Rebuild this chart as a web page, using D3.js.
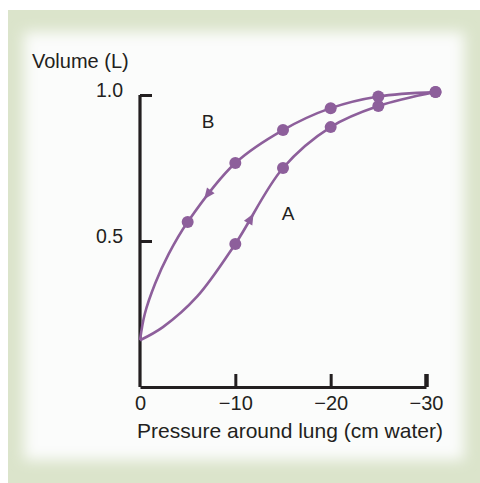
<!DOCTYPE html>
<html>
<head>
<meta charset="utf-8">
<script src="https://cdn.jsdelivr.net/npm/d3@7"></script>
<style>
  body { margin: 0; background: #fff; }
  text { font-family: "Liberation Sans", Arial, sans-serif; fill: #231f20; }
</style>
</head>
<body>
<div id="chart"></div>
<script>
/**
 * DATA
 * */
const pressureTicks = [0, -10, -20, -30];
const volumeTicks = [0.5, 1.0];

// curve A: inflation, traced from 0 to -31 cm water
const inflP = [0, -2.4, -6, -10, -15, -20, -25, -31];
const inflV = [0.16, 0.205, 0.31, 0.49, 0.75, 0.89, 0.962, 1.01];
const inflDots = [-10, -15, -20, -25, -31];

// curve B: deflation, traced from -31 back to 0
const deflP = [-31, -25, -20, -15, -10, -5, -3, -1.6, -0.5, 0];
const deflV = [1.01, 0.995, 0.955, 0.88, 0.767, 0.565, 0.455, 0.355, 0.25, 0.16];
const deflDots = [-31, -25, -20, -15, -10, -5];

const arrowAt = { A: -11.6, B: -7.1 };

/**
 * CONSTANTS
 * */
const width = 480, height = 483;
const purple = "#8d5f9b";
const ink = "#231f20";

const svg = d3.select("#chart").append("svg")
  .attr("width", width)
  .attr("height", height);

// frame: pale green border fading into a white panel
const defs = svg.append("defs");
defs.append("filter").attr("id", "soft")
  .attr("x", "-10%").attr("y", "-10%").attr("width", "120%").attr("height", "120%")
  .append("feGaussianBlur").attr("stdDeviation", 7);

svg.append("rect")
  .attr("x", 8).attr("y", 10)
  .attr("width", width - 8).attr("height", height - 10)
  .attr("fill", "#dbe4cb");
svg.append("rect")
  .attr("x", 24).attr("y", 32)
  .attr("width", 440).attr("height", 428)
  .attr("fill", "#fbfcfb")
  .attr("filter", "url(#soft)");

/**
 * SCALES AND AXES
 * */
const x = d3.scaleLinear().domain([0, -30]).range([140, 426]);
const y = d3.scaleLinear().domain([0, 1]).range([387, 95]);

const xAxis = svg.append("g")
  .attr("transform", `translate(0,${y(0)})`)
  .call(d3.axisBottom(x).tickValues(pressureTicks).tickSize(-13).tickSizeOuter(0).tickPadding(9));

xAxis.select(".domain").attr("stroke", ink).attr("stroke-width", 3.2);
xAxis.selectAll(".tick line").attr("stroke", ink).attr("stroke-width", 3)
  .filter(d => d === 0).remove();
xAxis.selectAll(".tick line").filter(d => d === -30).attr("stroke-width", 4.5);
xAxis.selectAll(".tick text")
  .style("font-size", "20px")
  .style("font-family", "Liberation Sans, Arial, sans-serif")
  .attr("fill", ink);

const yAxis = svg.append("g")
  .attr("transform", `translate(${x(0)},0)`)
  .call(d3.axisLeft(y).tickValues(volumeTicks).tickFormat(d3.format(".1f"))
    .tickSize(-12).tickSizeOuter(0).tickPadding(17));

yAxis.select(".domain").attr("stroke", ink).attr("stroke-width", 3.2)
  .attr("d", `M0,${y(1)}V${y(0)}`);
yAxis.selectAll(".tick line").attr("stroke", ink).attr("stroke-width", 3);
yAxis.selectAll(".tick text")
  .style("font-size", "19.5px")
  .style("font-family", "Liberation Sans, Arial, sans-serif")
  .attr("fill", ink)
  .attr("dy", "0.1em");

svg.append("text")
  .attr("x", 32).attr("y", 68)
  .style("font-size", "20px")
  .text("Volume (L)");

svg.append("text")
  .attr("x", 290).attr("y", 438)
  .attr("text-anchor", "middle")
  .style("font-size", "21px")
  .text("Pressure around lung (cm water)");

/**
 * CURVES
 * */
const line = d3.line()
  .x(d => x(d[0]))
  .y(d => y(d[1]))
  .curve(d3.curveCatmullRom.alpha(0.5));

const curves = [
  { name: "A", p: inflP, v: inflV, dots: inflDots },
  { name: "B", p: deflP, v: deflV, dots: deflDots }
];

curves.forEach(c => {
  const pts = c.p.map((p, i) => [p, c.v[i]]);
  const path = svg.append("path")
    .datum(pts)
    .attr("d", line)
    .attr("fill", "none")
    .attr("stroke", purple)
    .attr("stroke-width", 2.6);

  svg.selectAll(null)
    .data(pts.filter(d => c.dots.includes(d[0])))
    .join("circle")
    .attr("cx", d => x(d[0]))
    .attr("cy", d => y(d[1]))
    .attr("r", 6)
    .attr("fill", purple);

  // direction arrow: find point on path nearest the chosen pressure
  const node = path.node();
  const total = node.getTotalLength();
  const tx = x(arrowAt[c.name]);
  let best = 0, bestD = Infinity;
  for (let l = 0; l <= total; l += 0.5) {
    const pt = node.getPointAtLength(l);
    const dd = Math.abs(pt.x - tx);
    if (dd < bestD) { bestD = dd; best = l; }
  }
  const p0 = node.getPointAtLength(Math.max(0, best - 2));
  const p1 = node.getPointAtLength(Math.min(total, best + 2));
  const pm = node.getPointAtLength(best);
  const ang = Math.atan2(p1.y - p0.y, p1.x - p0.x) * 180 / Math.PI;
  svg.append("path")
    .attr("d", "M6,0L-5,-4.8L-5,4.8Z")
    .attr("fill", purple)
    .attr("transform", `translate(${pm.x},${pm.y}) rotate(${ang})`);
});

// curve labels
svg.append("text").attr("x", 208).attr("y", 128)
  .attr("text-anchor", "middle").style("font-size", "19px").text("B");
svg.append("text").attr("x", 288).attr("y", 220)
  .attr("text-anchor", "middle").style("font-size", "19px").text("A");
</script>
</body>
</html>
